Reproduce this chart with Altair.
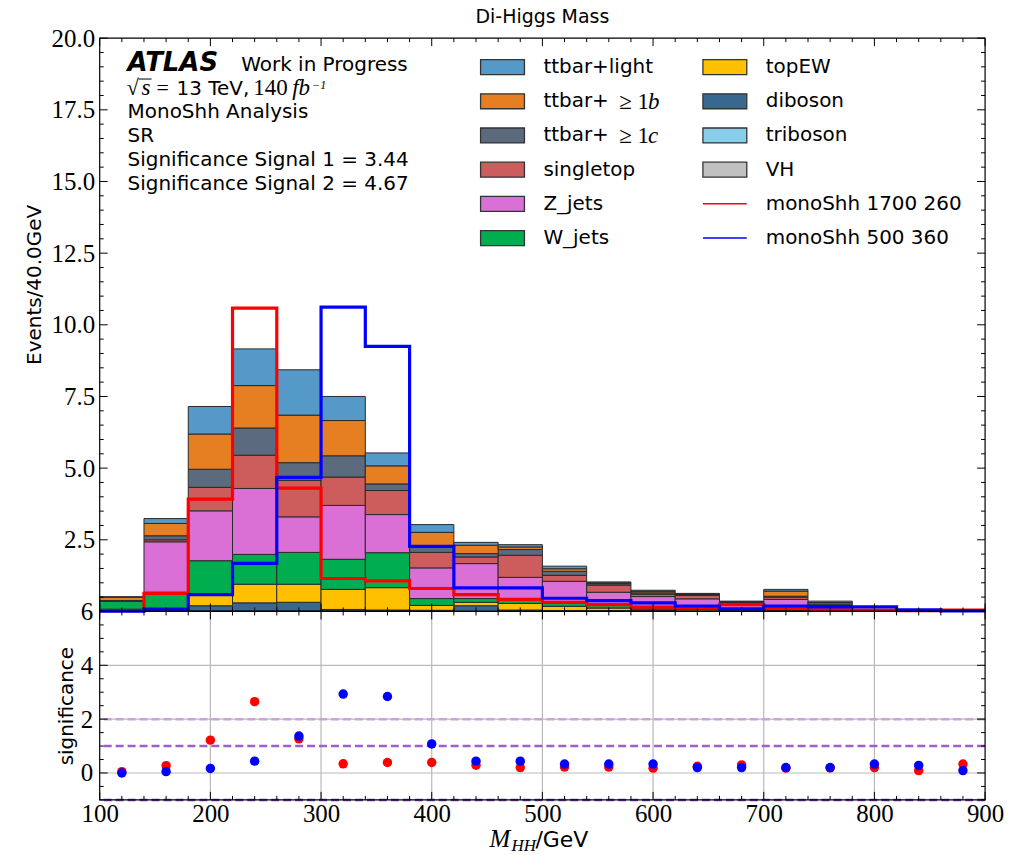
import altair as alt
import pandas as pd

# ---------------------------------------------------------------- binning
bin_lo = list(range(100, 900, 40))
bin_hi = [lo + 40 for lo in bin_lo]
bin_mid = [lo + 20 for lo in bin_lo]

# ---------------------------------------------------------------- backgrounds (events / 40 GeV)
processes = ["ttbar+light", "ttbar+≥1b", "ttbar+≥1c", "singletop", "Z_jets",
             "W_jets", "topEW", "diboson", "triboson", "VH"]
colors = ["#5599c8", "#e67f22", "#5b6b7d", "#cd5c5c", "#da70d6",
          "#00ae50", "#ffc000", "#386890", "#87ceeb", "#c0c0c0"]

ttbar_light = [0.01, 0.17, 0.96, 1.28, 1.58, 0.84, 0.45, 0.27, 0.10, 0.08,
               0.09, 0.03, 0.04, 0.02, 0.02, 0.06, 0.05, 0.00, 0.00, 0.00]
ttbar_1b = [0.12, 0.43, 1.23, 1.48, 1.66, 1.23, 0.63, 0.46, 0.29, 0.09,
            0.09, 0.03, 0.05, 0.02, 0.03, 0.18, 0.05, 0.00, 0.00, 0.00]
ttbar_1c = [0.02, 0.14, 0.63, 0.95, 0.62, 0.74, 0.23, 0.24, 0.12, 0.20,
            0.14, 0.05, 0.05, 0.03, 0.03, 0.03, 0.05, 0.00, 0.00, 0.00]
singletop = [0.00, 0.07, 0.82, 1.16, 1.27, 0.99, 0.84, 0.54, 0.23, 0.77,
             0.21, 0.25, 0.08, 0.12, 0.06, 0.08, 0.04, 0.01, 0.00, 0.00]
z_jets = [0.00, 1.76, 1.74, 2.30, 1.24, 1.88, 1.33, 1.07, 1.22, 0.77,
          0.75, 0.45, 0.39, 0.32, 0.14, 0.22, 0.10, 0.02, 0.00, 0.00]
w_jets = [0.28, 0.62, 1.20, 1.04, 1.11, 1.05, 1.22, 0.24, 0.13, 0.14,
          0.12, 0.10, 0.05, 0.05, 0.03, 0.10, 0.03, 0.01, 0.00, 0.00]
top_ew = [0.06, 0.03, 0.37, 0.65, 0.63, 0.70, 0.78, 0.17, 0.12, 0.23,
          0.15, 0.09, 0.05, 0.05, 0.03, 0.06, 0.02, 0.00, 0.00, 0.00]
diboson = [0.02, 0.02, 0.18, 0.28, 0.30, 0.05, 0.04, 0.04, 0.20, 0.05,
           0.03, 0.03, 0.03, 0.02, 0.02, 0.04, 0.02, 0.01, 0.00, 0.00]
triboson = [0.00, 0.00, 0.01, 0.01, 0.01, 0.01, 0.01, 0.00, 0.00, 0.00,
            0.00, 0.00, 0.00, 0.00, 0.00, 0.00, 0.00, 0.00, 0.00, 0.00]
vh = [0.00, 0.00, 0.01, 0.01, 0.01, 0.01, 0.00, 0.00, 0.00, 0.00,
      0.00, 0.00, 0.00, 0.00, 0.00, 0.00, 0.00, 0.00, 0.00, 0.00]

yields = [ttbar_light, ttbar_1b, ttbar_1c, singletop, z_jets,
          w_jets, top_ew, diboson, triboson, vh]

# ---------------------------------------------------------------- signals
signal_names = ["monoShh 1700 260", "monoShh 500 360"]
signal_colors = ["#ff0000", "#0000ff"]
sig_1700_260 = [0.03, 0.63, 3.92, 10.58, 4.30, 1.15, 1.07, 0.80, 0.59, 0.42,
                0.32, 0.24, 0.15, 0.12, 0.24, 0.10, 0.06, 0.05, 0.03, 0.05]
sig_500_360 = [0.01, 0.08, 0.59, 1.68, 4.68, 10.62, 9.25, 2.27, 0.82, 0.82,
               0.46, 0.38, 0.30, 0.19, 0.09, 0.19, 0.16, 0.16, 0.06, 0.02]

# per-bin significance of each signal
significance_1 = [0.05, 0.27, 1.22, 2.65, 1.27, 0.34, 0.39, 0.39, 0.29, 0.20,
                  0.22, 0.22, 0.18, 0.25, 0.30, 0.18, 0.19, 0.20, 0.09, 0.33]
significance_2 = [0.00, 0.05, 0.17, 0.44, 1.37, 2.93, 2.84, 1.08, 0.44, 0.44,
                  0.33, 0.33, 0.33, 0.20, 0.20, 0.20, 0.20, 0.33, 0.28, 0.09]

# reference levels in the significance panel
sig_levels = [2, 1, -1]
sig_level_colors = ["#c9a3db", "#9b5fd0", "#7a3fc0"]

# ---------------------------------------------------------------- geometry
W = 888
H_TOP = 575
H_BOT = 189
SANS = "DejaVu Sans"
SERIF = "Liberation Serif"
TICK_FONT = 25

xs = alt.Scale(domain=[100, 900], nice=False, zero=False)
ys_top = alt.Scale(domain=[0, 20], nice=False, zero=False)
ys_bot = alt.Scale(domain=[-1, 6], nice=False, zero=False)

x_major = list(range(100, 901, 100))
x_minor = [v for v in range(100, 901, 20) if v % 100]
y_top_major = [2.5 * i for i in range(9)]
y_top_minor = [0.5 * i for i in range(41) if (0.5 * i) % 2.5]
y_bot_major = [0, 2, 4, 6]
y_bot_minor = [-1 + 0.5 * i for i in range(15) if (-1 + 0.5 * i) not in y_bot_major]

# one axis definition per channel, repeated on every layer of a panel
AX_Y_TOP = alt.Axis(
    values=y_top_major[1:], format=".1f", labelFont=SERIF, labelFontSize=TICK_FONT,
    labelColor="black", ticks=False, domain=False, grid=False, labelPadding=5,
    labelFlush=False, labelOverlap=False,
    title="Events/40.0GeV", titleFont=SANS, titleFontSize=20,
    titleFontWeight="normal", titleColor="black", titleAngle=270,
    titleX=-65, titleY=247, titleAlign="center", titleBaseline="middle")
AX_X_BOT = alt.Axis(
    values=x_major, format="d", labelFont=SERIF, labelFontSize=TICK_FONT,
    labelColor="black", ticks=False, domain=False, grid=False, labelPadding=2,
    labelFlush=False, labelOverlap=False, title=None)
AX_Y_BOT = alt.Axis(
    values=y_bot_major, format="d", labelFont=SERIF, labelFontSize=TICK_FONT,
    labelColor="black", ticks=False, domain=False, grid=False, labelPadding=7,
    labelFlush=False, labelOverlap=False,
    title="significance", titleFont=SANS, titleFontSize=20,
    titleFontWeight="normal", titleColor="black", titleAngle=270,
    titleX=-33, titleY=H_BOT / 2, titleAlign="center", titleBaseline="middle")

# stacked histogram: last process in the list sits at the bottom
rows = []
for i in range(len(bin_lo)):
    base = 0.0
    for k in reversed(range(len(processes))):
        v = yields[k][i]
        rows.append({"lo": bin_lo[i], "hi": bin_hi[i], "process": processes[k],
                     "y0": base, "y1": base + v, "order": len(processes) - k})
        base += v
stack_df = pd.DataFrame(rows)


def txt(s, x, y, size=20, font=SANS, style="normal", weight="normal",
        align="left", baseline="alphabetic", color="black"):
    return alt.Chart(pd.DataFrame({"t": [s]})).mark_text(
        align=align, baseline=baseline, font=font, fontSize=size,
        fontStyle=style, fontWeight=weight, color=color
    ).encode(text="t:N", x=alt.value(x), y=alt.value(y))


def inside_ticks(xmaj, xmin, ymaj, ymin, yscale, H, xaxis, yaxis):
    layers = []
    for vals, ln in ((xmaj, 8), (xmin, 4)):
        df = pd.DataFrame({"v": vals})
        layers.append(alt.Chart(df).mark_rule(color="black", strokeWidth=1).encode(
            x=alt.X("v:Q", scale=xs, axis=xaxis), y=alt.value(0), y2=alt.value(ln)))
        layers.append(alt.Chart(df).mark_rule(color="black", strokeWidth=1).encode(
            x=alt.X("v:Q", scale=xs, axis=xaxis), y=alt.value(H), y2=alt.value(H - ln)))
    for vals, ln in ((ymaj, 8), (ymin, 4)):
        df = pd.DataFrame({"v": vals})
        layers.append(alt.Chart(df).mark_rule(color="black", strokeWidth=1).encode(
            y=alt.Y("v:Q", scale=yscale, axis=yaxis), x=alt.value(0), x2=alt.value(ln)))
        layers.append(alt.Chart(df).mark_rule(color="black", strokeWidth=1).encode(
            y=alt.Y("v:Q", scale=yscale, axis=yaxis), x=alt.value(W), x2=alt.value(W - ln)))
    return layers


def frame(H):
    return alt.Chart(pd.DataFrame({"a": [0]})).mark_rect(
        fillOpacity=0, stroke="black", strokeWidth=1.2
    ).encode(x=alt.value(0), x2=alt.value(W), y=alt.value(0), y2=alt.value(H))


# ---------------------------------------------------------------- upper panel
bars = alt.Chart(stack_df).mark_bar(stroke="#2a2a2a", strokeWidth=1).encode(
    x=alt.X("lo:Q", scale=xs, axis=None),
    x2="hi:Q",
    y=alt.Y("y0:Q", scale=ys_top, axis=AX_Y_TOP),
    y2="y1:Q",
    color=alt.Color("process:N", scale=alt.Scale(domain=processes, range=colors),
                    legend=None),
    order=alt.Order("order:Q"),
)

step_layers = []
for name, col, vals in zip(signal_names, signal_colors, [sig_1700_260, sig_500_360]):
    df = pd.DataFrame({"edge": bin_lo + [900], "val": vals + [vals[-1]]})
    step_layers.append(alt.Chart(df).mark_line(
        interpolate="step-after", color=col, strokeWidth=3.2,
        strokeJoin="miter", strokeCap="butt"
    ).encode(x=alt.X("edge:Q", scale=xs, axis=None),
             y=alt.Y("val:Q", scale=ys_top, axis=AX_Y_TOP)))

# text block, top left
notes = [
    txt("ATLAS", 28, 33, size=26, style="italic", weight="bold"),
    txt("Work in Progress", 142, 33),
    txt("√", 27, 57, size=22, font=SERIF),
    txt("s", 42, 57, size=23, font=SERIF, style="italic"),
    txt("=", 57, 57, size=22, font=SERIF),
    txt("13 TeV,", 77, 57),
    txt("140", 154, 57, size=23, font=SERIF),
    txt("fb", 193, 57, size=23, font=SERIF, style="italic"),
    txt("−1", 213, 51, size=12, font=SERIF, style="italic"),
    txt("MonoShh Analysis", 28, 80),
    txt("SR", 28, 104),
    txt("Significance Signal 1 = 3.44", 28, 128),
    txt("Significance Signal 2 = 4.67", 28, 152),
]
sqrt_bar = alt.Chart(pd.DataFrame({"a": [0]})).mark_rule(color="black", strokeWidth=1).encode(
    x=alt.value(39), x2=alt.value(52), y=alt.value(41))

# legend, two columns
legend_layers = []
legend_names = processes + signal_names
legend_colors = colors + signal_colors
for i, (name, col) in enumerate(zip(legend_names, legend_colors)):
    c, r = divmod(i, 6)
    sx = 382 + c * 223
    sy = 29 + r * 34.3
    one = pd.DataFrame({"a": [0]})
    if name in signal_names:
        legend_layers.append(alt.Chart(one).mark_rule(color=col, strokeWidth=1.5).encode(
            x=alt.value(sx), x2=alt.value(sx + 44), y=alt.value(sy)))
    else:
        legend_layers.append(alt.Chart(one).mark_rect(
            color=col, stroke="#333333", strokeWidth=1.3).encode(
            x=alt.value(sx), x2=alt.value(sx + 44),
            y=alt.value(sy - 7.5), y2=alt.value(sy + 7.5)))
    lx = sx + 63
    if "≥" in name:
        head, tail = name.split("≥")
        legend_layers.append(txt(head, lx, sy, baseline="middle"))
        legend_layers.append(txt("≥ " + tail[:-1], lx + 76, sy + 1, size=23,
                                 font=SERIF, baseline="middle"))
        legend_layers.append(txt(tail[-1], lx + 105, sy + 1, size=23, font=SERIF,
                                 style="italic", baseline="middle"))
    else:
        legend_layers.append(txt(name, lx, sy, baseline="middle"))

upper = alt.layer(
    bars, *step_layers,
    *inside_ticks(x_major, x_minor, y_top_major, y_top_minor, ys_top, H_TOP, None, AX_Y_TOP),
    *notes, sqrt_bar, *legend_layers, frame(H_TOP),
).properties(
    width=W, height=H_TOP,
    title=alt.Title("Di-Higgs Mass", font=SANS, fontSize=19, fontWeight="normal",
                    color="black", anchor="middle", frame="group", offset=-1),
)

# ---------------------------------------------------------------- lower panel
grid_x = alt.Chart(pd.DataFrame({"v": x_major[1:-1]})).mark_rule(
    color="#b9b9b9", strokeWidth=1.2).encode(x=alt.X("v:Q", scale=xs, axis=AX_X_BOT))
grid_y = alt.Chart(pd.DataFrame({"v": [0, 2, 4]})).mark_rule(
    color="#b9b9b9", strokeWidth=1.2).encode(y=alt.Y("v:Q", scale=ys_bot, axis=AX_Y_BOT))

level_layers = []
for lvl, col in zip(sig_levels, sig_level_colors):
    level_layers.append(alt.Chart(pd.DataFrame({"v": [lvl]})).mark_rule(
        color=col, strokeWidth=2.5, strokeDash=[8, 4]).encode(
        y=alt.Y("v:Q", scale=ys_bot, axis=AX_Y_BOT)))

sig_df = pd.DataFrame({"mid": bin_mid, "s1": significance_1, "s2": significance_2})
pts1 = alt.Chart(sig_df).mark_circle(size=90, opacity=1, color=signal_colors[0]).encode(
    x=alt.X("mid:Q", scale=xs, axis=AX_X_BOT),
    y=alt.Y("s1:Q", scale=ys_bot, axis=AX_Y_BOT),
)
pts2 = alt.Chart(sig_df).mark_circle(size=90, opacity=1, color=signal_colors[1]).encode(
    x=alt.X("mid:Q", scale=xs, axis=AX_X_BOT),
    y=alt.Y("s2:Q", scale=ys_bot, axis=AX_Y_BOT),
)

xtitle = [
    txt("M", 391, 236, size=25, font=SERIF, style="italic"),
    txt("HH", 413, 240, size=17, font=SERIF, style="italic"),
    txt("/GeV", 437, 236, size=22),
]

lower = alt.layer(
    grid_x, grid_y, *level_layers, pts1, pts2,
    *inside_ticks(x_major, x_minor, y_bot_major, y_bot_minor, ys_bot, H_BOT, AX_X_BOT, AX_Y_BOT),
    *xtitle, frame(H_BOT),
).properties(width=W, height=H_BOT)

chart = alt.vconcat(upper, lower, spacing=0, bounds="flush").properties(
    padding={"left": 25, "top": 7, "right": 10, "bottom": 0}
).configure_view(strokeWidth=0)

chart.save("out.html", embed_options={"renderer": "svg", "actions": False})
